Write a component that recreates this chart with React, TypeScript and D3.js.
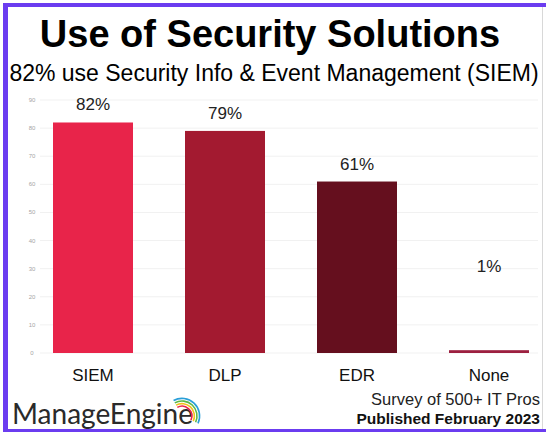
import React, { useEffect, useRef } from "react"
import * as d3 from "d3"

const categories = ["SIEM", "DLP", "EDR", "None"]
const values = [82, 79, 61, 1]
const barColors = ["#e8244a", "#a31a30", "#650f1e", "#9c2040"]
const yTicks = [0, 10, 20, 30, 40, 50, 60, 70, 80, 90]

const W = 546
const H = 432

export default function App() {
  const ref = useRef<SVGSVGElement>(null)

  useEffect(() => {
    const svg = d3.select(ref.current)
    svg.selectAll("*").remove()

    const x = d3.scaleBand<string>()
      .domain(categories)
      .range([53, 529])
      .paddingInner(0.394)
      .paddingOuter(0)
    const y = d3.scaleLinear().domain([0, 90]).range([353, 100])

    svg.append("rect").attr("width", W).attr("height", H).attr("fill", "#fff")

    // frame
    svg.append("rect").attr("x", 3).attr("y", 3).attr("width", W - 3).attr("height", 4).attr("fill", "#6b3cf0")
    svg.append("rect").attr("x", 3).attr("y", 3).attr("width", 5).attr("height", H - 3).attr("fill", "#6b3cf0")
    svg.append("rect").attr("x", 3).attr("y", 429).attr("width", W - 3).attr("height", 3).attr("fill", "#6b3cf0")
    svg.append("line").attr("x1", 542.5).attr("x2", 542.5).attr("y1", 7).attr("y2", 429)
      .attr("stroke", "#d8d8d8").attr("stroke-width", 1)

    // grid + ticks
    const grid = svg.append("g")
    grid.selectAll("line").data(yTicks).enter().append("line")
      .attr("x1", 40).attr("x2", 538)
      .attr("y1", d => y(d)).attr("y2", d => y(d))
      .attr("stroke", "#f1f1f1").attr("stroke-width", 1)
    grid.selectAll("text").data(yTicks).enter().append("text")
      .attr("x", 32).attr("y", d => y(d) + 2)
      .attr("text-anchor", "middle")
      .attr("font-family", "Liberation Sans, Arial, sans-serif")
      .attr("font-size", 6).attr("fill", "#a5a5a5")
      .text(d => d)

    // bars
    svg.append("g").selectAll("rect").data(values).enter().append("rect")
      .attr("x", (d, i) => x(categories[i])!)
      .attr("width", x.bandwidth())
      .attr("y", d => y(d))
      .attr("height", d => y(0) - y(d))
      .attr("fill", (d, i) => barColors[i])

    // value labels
    svg.append("g").selectAll("text").data(values).enter().append("text")
      .attr("x", (d, i) => x(categories[i])! + x.bandwidth() / 2)
      .attr("y", d => Math.min(y(d), y(24.5)) - 12)
      .attr("text-anchor", "middle")
      .attr("font-family", "Liberation Sans, Arial, sans-serif")
      .attr("font-size", 17).attr("fill", "#222")
      .text(d => d + "%")

    // category labels
    svg.append("g").selectAll("text").data(categories).enter().append("text")
      .attr("x", d => x(d)! + x.bandwidth() / 2)
      .attr("y", 381)
      .attr("text-anchor", "middle")
      .attr("font-family", "Liberation Sans, Arial, sans-serif")
      .attr("font-size", 17).attr("fill", "#111")
      .text(d => d)

    // titles
    svg.append("text").attr("x", 270).attr("y", 47)
      .attr("text-anchor", "middle")
      .attr("font-family", "Liberation Sans, Arial, sans-serif")
      .attr("font-weight", "bold").attr("font-size", 38).attr("fill", "#000")
      .text("Use of Security Solutions")
    svg.append("text").attr("x", 274).attr("y", 81)
      .attr("text-anchor", "middle")
      .attr("font-family", "Liberation Sans, Arial, sans-serif")
      .attr("font-size", 23).attr("fill", "#000")
      .text("82% use Security Info & Event Management (SIEM)")

    // footer
    svg.append("text").attr("x", 540).attr("y", 405)
      .attr("text-anchor", "end")
      .attr("font-family", "Liberation Sans, Arial, sans-serif")
      .attr("font-size", 16.5).attr("fill", "#222")
      .text("Survey of 500+ IT Pros")
    svg.append("text").attr("x", 540).attr("y", 424)
      .attr("text-anchor", "end")
      .attr("font-family", "Liberation Sans, Arial, sans-serif")
      .attr("font-weight", "bold").attr("font-size", 15.5).attr("fill", "#111")
      .text("Published February 2023")

    // logo
    svg.append("text").attr("x", 12).attr("y", 424)
      .attr("font-family", "Lato, Open Sans, sans-serif")
      .attr("font-size", 29).attr("fill", "#2a2a2a")
      .attr("textLength", 181).attr("lengthAdjust", "spacingAndGlyphs")
      .text("ManageEngine")
    const arcColors = ["#e8244a", "#f3c21b", "#5cb947", "#2a9fd8"]
    const arc = d3.arc()
    svg.append("g").attr("transform", "translate(182,416)")
      .selectAll("path").data(arcColors).enter().append("path")
      .attr("d", (d, i) => arc({
        innerRadius: 9 + i * 2.6,
        outerRadius: 10.6 + i * 2.6,
        startAngle: -0.5,
        endAngle: 2.0
      } as any))
      .attr("fill", d => d)
  }, [])

  return (
    <svg ref={ref} width={W} height={H}
      style={{ position: "absolute", left: 0, top: 0, display: "block" }} />
  )
}
